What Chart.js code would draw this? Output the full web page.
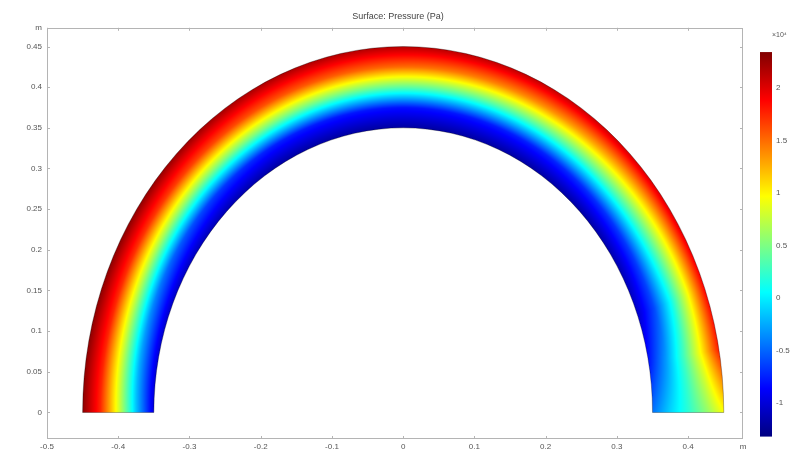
<!DOCTYPE html>
<html>
<head>
<meta charset="utf-8">
<script src="https://cdn.jsdelivr.net/npm/chart.js@4.4.1/dist/chart.umd.min.js"></script>
<style>
  html, body { margin: 0; padding: 0; background: #fff; }
</style>
</head>
<body>
<canvas id="chart" width="796" height="455"></canvas>
<script>
// surface pressure (x10^4 Pa), one row per angle, inner -> outer radius
const angles = [0, 10, 20, 30, 45, 60, 90, 120, 135, 150, 165, 180];   // deg
const radii = [0.35, 0.375, 0.4, 0.425, 0.45];                           // m
const pressure = [
  [-0.45, -0.1, 0.2, 0.55, 0.95],
  [-0.8, -0.3, 0.3, 1.0, 1.8],
  [-1.05, -0.6, 0.1, 0.95, 1.9],
  [-1.15, -0.65, 0.2, 1.05, 2.0],
  [-1.2, -0.7, 0.3, 1.2, 2.05],
  [-1.2, -0.75, 0.35, 1.35, 2.1],
  [-1.2, -0.8, 0.4, 1.5, 2.15],
  [-1.2, -0.75, 0.5, 1.6, 2.2],
  [-1.15, -0.65, 0.55, 1.65, 2.25],
  [-1.1, -0.5, 0.65, 1.7, 2.3],
  [-1.05, -0.3, 0.75, 1.75, 2.3],
  [-1.0, -0.15, 0.85, 1.75, 2.3]
];
const xTicks = [-0.5, -0.4, -0.3, -0.2, -0.1, 0, 0.1, 0.2, 0.3, 0.4];
const yTicks = [0, 0.05, 0.1, 0.15, 0.2, 0.25, 0.3, 0.35, 0.4, 0.45];
const barTicks = [-1, -0.5, 0, 0.5, 1, 1.5, 2];
const barMin = -1.32;
const barMax = 2.34;

const X_MAX = 0.477;
const Y_MAX = 0.473;
const FONT = "'Liberation Sans', Arial, sans-serif";
const TXT = '#555';

function jet(t) {
  t = Math.min(1, Math.max(0, t));
  const f = (c) => Math.round(255 * Math.min(1, Math.max(0, 1.5 - Math.abs(4 * t - c))));
  return [f(3), f(2), f(1)];
}

function seg(arr, v) {
  let i = 0;
  while (i < arr.length - 2 && v > arr[i + 1]) i++;
  let f = (v - arr[i]) / (arr[i + 1] - arr[i]);
  return [i, Math.min(1, Math.max(0, f))];
}

function lookup(th, r) {
  const [ia, fa] = seg(angles, th);
  const [ir, fr] = seg(radii, r);
  const a0 = pressure[ia][ir] * (1 - fr) + pressure[ia][ir + 1] * fr;
  const a1 = pressure[ia + 1][ir] * (1 - fr) + pressure[ia + 1][ir + 1] * fr;
  return a0 * (1 - fa) + a1 * fa;
}

function ringPath(ctx, x, y) {
  const cx = x.getPixelForValue(0), cy = y.getPixelForValue(0);
  const rIn = radii[0], rOut = radii[radii.length - 1];
  const rxO = x.getPixelForValue(rOut) - cx, ryO = cy - y.getPixelForValue(rOut);
  const rxI = x.getPixelForValue(rIn) - cx, ryI = cy - y.getPixelForValue(rIn);
  ctx.beginPath();
  ctx.ellipse(cx, cy, rxO, ryO, 0, Math.PI, 2 * Math.PI, false);
  ctx.lineTo(cx + rxI, cy);
  ctx.ellipse(cx, cy, rxI, ryI, 0, 2 * Math.PI, Math.PI, true);
  ctx.closePath();
}

const fieldPlugin = {
  id: 'field',
  beforeDatasetsDraw(chart) {
    const {ctx, chartArea: a, scales: {x, y}} = chart;
    const w = Math.round(a.right - a.left), h = Math.round(a.bottom - a.top);
    const off = document.createElement('canvas');
    off.width = w; off.height = h;
    const octx = off.getContext('2d');
    const img = octx.createImageData(w, h);
    const rIn = radii[0], rOut = radii[radii.length - 1];
    for (let j = 0; j < h; j++) {
      const yv = y.getValueForPixel(a.top + j + 0.5);
      if (yv < -0.006) continue;
      for (let i = 0; i < w; i++) {
        const xv = x.getValueForPixel(a.left + i + 0.5);
        const r = Math.hypot(xv, yv);
        if (r < rIn - 0.005 || r > rOut + 0.005) continue;
        const th = Math.atan2(Math.max(yv, 0), xv) * 180 / Math.PI;
        const c = jet((lookup(th, r) - barMin) / (barMax - barMin));
        const k = (j * w + i) * 4;
        img.data[k] = c[0]; img.data[k + 1] = c[1]; img.data[k + 2] = c[2]; img.data[k + 3] = 255;
      }
    }
    octx.putImageData(img, 0, 0);
    ctx.save();
    ringPath(ctx, x, y);
    ctx.clip();
    ctx.drawImage(off, a.left, a.top);
    ctx.restore();
    ctx.save();
    ringPath(ctx, x, y);
    ctx.strokeStyle = 'rgba(0,0,0,0.3)';
    ctx.lineWidth = 1;
    ctx.stroke();
    ctx.restore();
  },
  afterDraw(chart) {
    const {ctx, chartArea: a, scales: {x, y, cb}} = chart;
    ctx.save();
    // frame
    ctx.strokeStyle = '#b4b4b4';
    ctx.lineWidth = 1;
    ctx.strokeRect(Math.round(a.left) + 0.5, Math.round(a.top) + 0.5,
      Math.round(a.right - a.left) - 1, Math.round(a.bottom - a.top) - 1);
    // inward ticks on all four sides
    ctx.beginPath();
    xTicks.forEach(v => {
      const px = Math.round(x.getPixelForValue(v)) + 0.5;
      ctx.moveTo(px, a.bottom); ctx.lineTo(px, a.bottom - 3);
      ctx.moveTo(px, a.top); ctx.lineTo(px, a.top + 3);
    });
    yTicks.forEach(v => {
      const py = Math.round(y.getPixelForValue(v)) + 0.5;
      ctx.moveTo(a.left, py); ctx.lineTo(a.left + 3, py);
      ctx.moveTo(a.right, py); ctx.lineTo(a.right - 3, py);
    });
    ctx.stroke();
    // colour bar
    const top = cb.getPixelForValue(barMax), bot = cb.getPixelForValue(barMin);
    const bx = a.right + 17, bw = 12;
    const g = ctx.createLinearGradient(0, bot, 0, top);
    for (let s = 0; s <= 16; s++) {
      const c = jet(s / 16);
      g.addColorStop(s / 16, `rgb(${c[0]},${c[1]},${c[2]})`);
    }
    ctx.fillStyle = g;
    ctx.fillRect(bx, top, bw, bot - top);
    ctx.fillStyle = TXT;
    ctx.font = `7px ${FONT}`;
    ctx.textAlign = 'left';
    ctx.textBaseline = 'middle';
    ctx.fillText('\u00d710\u2074', bx + 12, top - 17);
    ctx.restore();
  }
};

const tickFont = {family: FONT, size: 8};
const noPad = s => { s.paddingTop = 0; s.paddingBottom = 0; };
const noGrid = {display: false, drawTicks: false, tickLength: 0};

new Chart(document.getElementById('chart'), {
  type: 'scatter',
  data: {datasets: []},
  options: {
    responsive: false,
    animation: false,
    layout: {padding: 0},
    plugins: {
      legend: {display: false},
      tooltip: {enabled: false},
      title: {
        display: true,
        text: 'Surface: Pressure (Pa)',
        color: '#444',
        font: {family: FONT, size: 9, weight: 'normal'},
        padding: {top: 11, bottom: 6}
      }
    },
    scales: {
      x: {
        type: 'linear',
        position: 'bottom',
        min: -0.5,
        max: X_MAX,
        grid: noGrid,
        border: {display: false},
        afterBuildTicks: s => { s.ticks = xTicks.concat([X_MAX]).map(v => ({value: v})); },
        afterFit: s => { s.height = 16; },
        ticks: {
          autoSkip: false, maxRotation: 0, padding: 3, color: TXT, font: tickFont,
          callback: v => (v === X_MAX ? 'm' : String(v))
        }
      },
      y: {
        type: 'linear',
        position: 'left',
        min: -0.0326,
        max: Y_MAX,
        grid: noGrid,
        border: {display: false},
        afterBuildTicks: s => { s.ticks = yTicks.concat([Y_MAX]).map(v => ({value: v})); },
        afterFit: s => { s.width = 47; noPad(s); },
        ticks: {
          autoSkip: false, padding: 5, color: TXT, font: tickFont,
          callback: v => (v === Y_MAX ? 'm' : String(v))
        }
      },
      cb: {
        type: 'linear',
        position: 'right',
        min: -1.343,
        max: 2.571,
        grid: noGrid,
        border: {display: false},
        afterBuildTicks: s => { s.ticks = barTicks.map(v => ({value: v})); },
        afterFit: s => { s.width = 53; noPad(s); },
        ticks: {autoSkip: false, padding: 33, color: TXT, font: tickFont, callback: v => String(v)}
      }
    }
  },
  plugins: [fieldPlugin]
});
</script>
</body>
</html>
